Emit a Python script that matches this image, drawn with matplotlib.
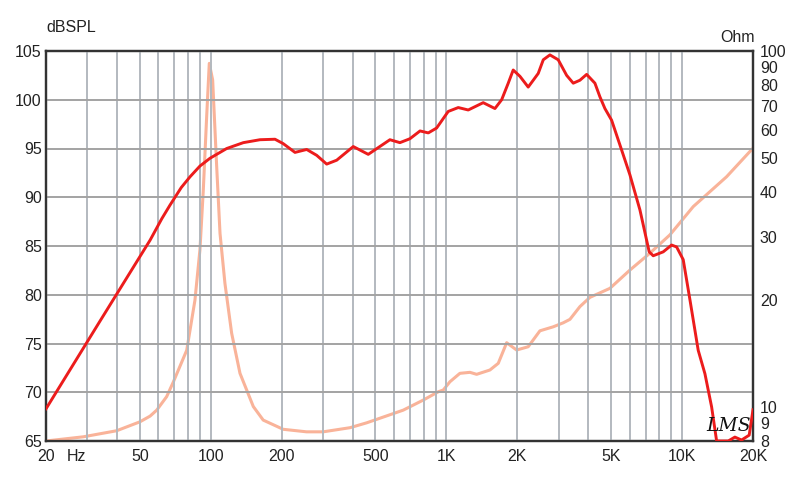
import matplotlib
matplotlib.use("Agg")
import matplotlib.pyplot as plt
from matplotlib.ticker import FixedLocator, NullFormatter, NullLocator

plt.rcParams['font.family'] = ['Liberation Sans', 'DejaVu Sans']

# SPL response (Hz, dB)
spl_freq = [20, 33.9, 55.3, 62, 67.2, 75, 81.7, 90, 99.3, 116.9, 137.5, 161.8,
            187.4, 203, 227.8, 255.4, 281.6, 310.5, 342.4, 402.6, 466, 576,
            635, 700, 773, 838, 909, 1018, 1123, 1238, 1433, 1607, 1716, 1830,
            1921, 2052, 2224, 2336, 2453, 2577, 2750, 2982, 3238, 3454, 3686,
            3936, 4268, 4482, 4706, 5025, 5540, 6008, 6626, 7254, 7544, 8318,
            9030, 9484, 10114, 10798, 11710, 12504, 13348, 14018, 15700, 16758,
            17886, 19270, 20000]
spl_db = [68.3, 77.3, 85.6, 87.8, 89.2, 91.0, 92.1, 93.2, 94.0, 95.0, 95.6,
          95.9, 95.95, 95.5, 94.6, 94.9, 94.3, 93.4, 93.8, 95.2, 94.4, 95.9,
          95.6, 96.0, 96.8, 96.6, 97.1, 98.8, 99.2, 98.95, 99.7, 99.1, 100.0,
          101.7, 103.05, 102.4, 101.3, 102.0, 102.7, 104.1, 104.6, 104.1,
          102.5, 101.7, 102.0, 102.6, 101.7, 100.3, 99.1, 97.9, 94.85, 92.3,
          88.7, 84.4, 84.0, 84.4, 85.1, 84.9, 83.6, 79.5, 74.3, 71.9, 68.5,
          65.0, 65.0, 65.4, 65.1, 65.6, 68.2]

# impedance (Hz, Ohm)
imp_freq = [20, 28.8, 39.9, 50.1, 55.3, 59.0, 65.0, 69.3, 79.1, 85.7, 90.0,
            93.0, 96.1, 98.6, 101.9, 106, 109.5, 114.9, 122.7, 133.1, 151.6,
            167, 203, 255, 300, 390, 459, 656, 798, 923, 970, 1035, 1141, 1259,
            1344, 1530, 1660, 1802, 1986, 2224, 2494, 2840, 3132, 3344, 3686,
            4064, 4942, 6008, 7304, 8882, 11152, 15454, 20000]
imp_ohm = [8.0, 8.22, 8.55, 9.06, 9.4, 9.77, 10.66, 11.7, 14.4, 19.9, 27.6,
           40.6, 65.3, 92.3, 82.9, 47.3, 30.7, 22.2, 16.07, 12.4, 10.0,
           9.16, 8.63, 8.49, 8.49, 8.72, 9.0, 9.77, 10.43, 11.0, 11.13, 11.74,
           12.4, 12.48, 12.32, 12.67, 13.23, 15.12, 14.42, 14.73, 16.33, 16.76,
           17.2, 17.59, 19.1, 20.28, 21.5, 24.2, 27.0, 30.4, 36.5, 44.3, 53.3]

x_major = [20, 50, 100, 200, 500, 1000, 2000, 5000, 10000, 20000]
x_labels = ["20", "50", "100", "200", "500", "1K", "2K", "5K", "10K", "20K"]
x_grid = [20, 30, 40, 50, 60, 70, 80, 90, 100, 200, 300, 400, 500, 600, 700,
          800, 900, 1000, 2000, 3000, 4000, 5000, 6000, 7000, 8000, 9000,
          10000, 20000]
db_ticks = [65, 70, 75, 80, 85, 90, 95, 100, 105]
ohm_ticks = [8, 9, 10, 20, 30, 40, 50, 60, 70, 80, 90, 100]

fig = plt.figure(figsize=(8, 4.84), dpi=100)
ax = fig.add_axes([46/800, 43/484, 707/800, 390/484])
ax.set_xscale('log')
ax.set_xlim(20, 20000)
ax.set_ylim(65, 105)

for f in x_grid:
    ax.axvline(f, color='#b3b9bf', lw=1.4, zorder=0)
for d in db_ticks:
    ax.axhline(d, color='#a3a3a3', lw=1.4, zorder=0)

ax.xaxis.set_major_locator(FixedLocator(x_major))
ax.set_xticklabels(x_labels)
ax.xaxis.set_minor_locator(NullLocator())
ax.xaxis.set_minor_formatter(NullFormatter())
ax.set_yticks(db_ticks)
ax.tick_params(axis='both', length=0, labelsize=11.5, colors='#222222')
ax.tick_params(axis='x', pad=6)
ax.tick_params(axis='y', pad=3)

ax2 = ax.twinx()
ax2.set_yscale('log')
ax2.set_ylim(8, 100)
ax2.yaxis.set_major_locator(FixedLocator(ohm_ticks))
ax2.set_yticklabels([str(t) for t in ohm_ticks])
ax2.yaxis.set_minor_locator(NullLocator())
ax2.tick_params(axis='y', length=0, labelsize=11.5, pad=5, colors='#222222')

ax2.plot(imp_freq, imp_ohm, color='#f9b399', lw=2.2, solid_joinstyle='round', zorder=3)
ax.set_zorder(ax2.get_zorder() + 1)
ax.patch.set_visible(False)
ax.plot(spl_freq, spl_db, color='#ec1c1c', lw=2.1, solid_joinstyle='round', zorder=4)

for a in (ax, ax2):
    for s in a.spines.values():
        s.set_color('#333333')
        s.set_linewidth(1.6)

fig.text(46/800, 1 - 28/484, "dBSPL", fontsize=11.5, color='#222222', va='center')
fig.text(755/800, 1 - 38/484, "Ohm", fontsize=11.5, color='#222222', va='center', ha='right')
ax.text(26.8, -0.021, "Hz", transform=ax.get_xaxis_transform(), fontsize=11.5,
        color='#222222', ha='center', va='top')
ax.text(0.965, 0.038, "LMS", transform=ax.transAxes, fontsize=13.5, fontstyle='italic',
        family='DejaVu Serif', ha='center', va='center', color='#111111', zorder=6)

fig.savefig("out.png", dpi=100)
